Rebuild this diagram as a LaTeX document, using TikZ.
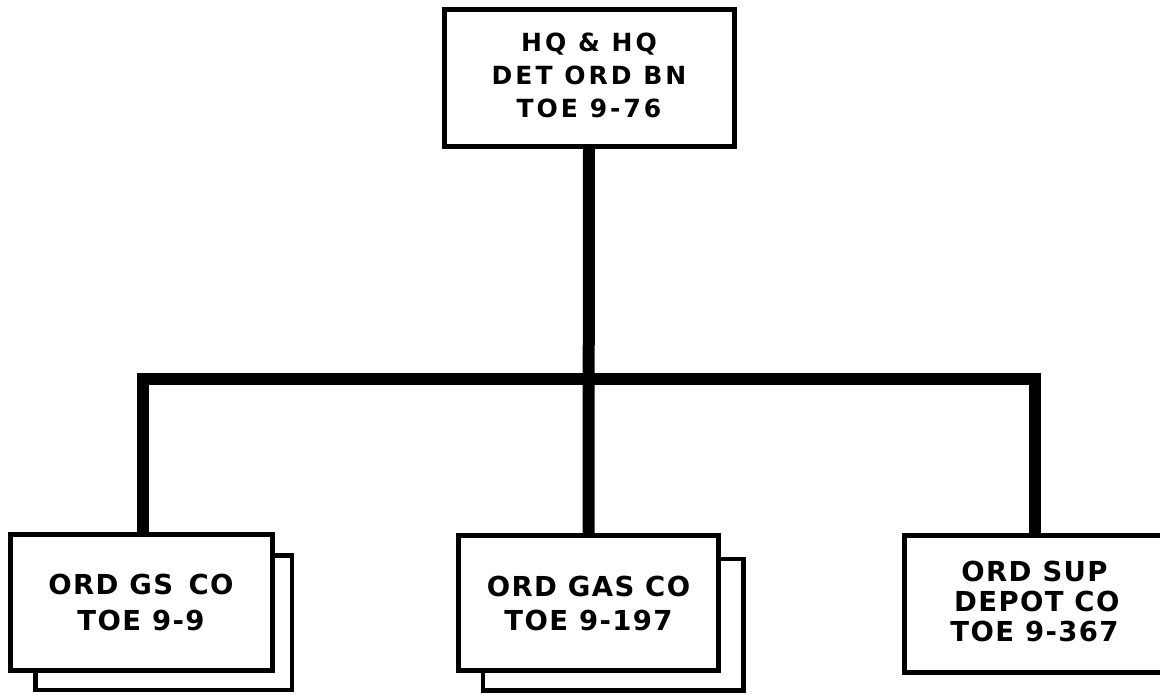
\documentclass[tikz,border=0pt]{standalone}
\usepackage{fontspec}
\newfontfamily\letteringA{DejaVu Sans Bold}[LetterSpace=12]
\newfontfamily\letteringB{DejaVu Sans Bold}[LetterSpace=5]
\usetikzlibrary{backgrounds}
\begin{document}
\begin{tikzpicture}[x=1pt,y=1pt,
  box/.style={draw=black, line width=5pt, fill=white, inner sep=0pt, outer sep=0pt,
    align=center, font=\letteringB\fontsize{27.5}{34}\selectfont},
  shadowbox/.style={draw=black, line width=4.5pt, fill=white},
  conn/.style={draw=black, line width=12pt}]
\useasboundingbox (0,0) rectangle (1160,-694);

\node[box, minimum width=290pt, minimum height=137pt, text depth=6pt,
  font=\letteringA\fontsize{25}{33}\selectfont] (top) at (589,-78)
  {HQ \& HQ\\DET ORD BN\\TOE 9-76};
\node[box, minimum width=262pt, minimum height=136pt,
  font=\letteringB\fontsize{27.5}{36}\selectfont] (gs) at (141,-602.5)
  {ORD GS\, CO\\TOE 9-9};
\node[box, minimum width=260pt, minimum height=135pt] (gas) at (588.5,-603)
  {ORD GAS CO\\TOE 9-197};
\node[box, minimum width=261pt, minimum height=137.5pt, text depth=5pt,
  font=\letteringB\fontsize{27.5}{30}\selectfont] (sup) at (1034.5,-603.75)
  {ORD SUP\\\,DEPOT CO\\TOE 9-367};

\begin{scope}[on background layer]
  \fill[white] (0,0) rectangle (1160,-694);
  \draw[shadowbox] ([shift={(25.5,-19.5)}]gs.south west) rectangle ([shift={(20,-21)}]gs.north east);
  \draw[shadowbox] ([shift={(24.5,-20)}]gas.south west) rectangle ([shift={(25,-23.5)}]gas.north east);
\end{scope}

\coordinate (bar) at ([yshift=-232pt]top.south);
\draw[conn] (top.south) -- (gas.north);
\draw[conn] ([xshift=2pt]gs.north) |- (bar) -| (sup.north);
\end{tikzpicture}
\end{document}
